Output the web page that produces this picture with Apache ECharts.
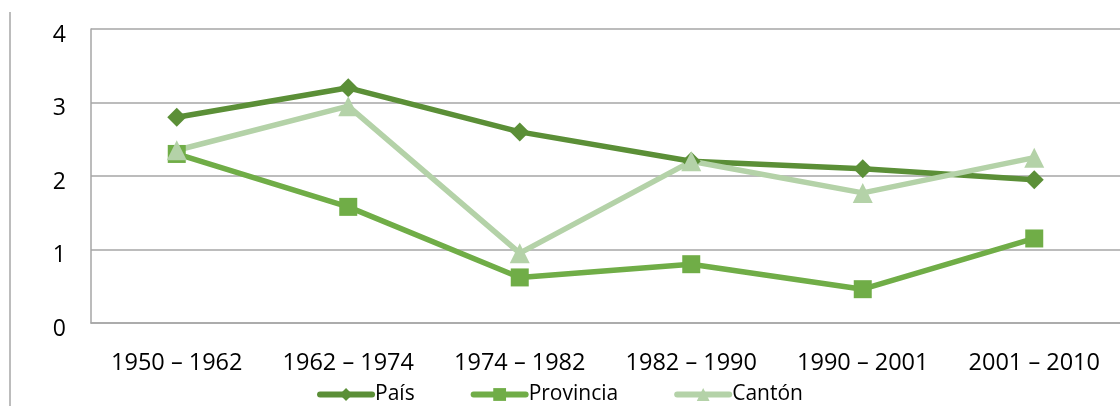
<!DOCTYPE html>
<html>
<head>
<meta charset="utf-8">
<script src="https://cdn.jsdelivr.net/npm/echarts@6/dist/echarts.min.js"></script>
<style>
  html, body { margin: 0; padding: 0; background: #fff; }
  #chart { width: 1120px; height: 406px; }
</style>
</head>
<body>
<div id="chart"></div>
<script>
const periods = ["1950 – 1962", "1962 – 1974", "1974 – 1982", "1982 – 1990", "1990 – 2001", "2001 – 2010"];
const pais = [2.8, 3.2, 2.6, 2.2, 2.1, 1.95];
const provincia = [2.3, 1.58, 0.62, 0.8, 0.46, 1.15];
const canton = [2.35, 2.95, 0.95, 2.2, 1.77, 2.25];

const font = "Open Sans";
const chart = echarts.init(document.getElementById("chart"));

function lineSeries(name, data, color, symbol, size) {
  return {
    name: name,
    type: "line",
    data: data,
    symbol: symbol,
    symbolSize: size,
    lineStyle: { color: color, width: 5.5 },
    itemStyle: { color: color },
    z: 2,
  };
}

chart.setOption({
  animation: false,
  textStyle: { fontFamily: font },
  grid: { left: 91, top: 29, right: -6, bottom: 83 },
  legend: {
    top: 379,
    left: "center",
    itemWidth: 52,
    itemHeight: 16,
    itemGap: 56,
    lineStyle: { width: 6, cap: "round" },
    textStyle: { fontSize: 21, color: "#000", fontFamily: font, padding: [0, 0, 0, -2] },
    data: ["País", "Provincia", "Cantón"],
  },
  xAxis: {
    type: "category",
    data: periods,
    boundaryGap: true,
    axisLine: { show: true, lineStyle: { color: "#a6a6a6", width: 1.5 } },
    axisTick: { show: false },
    axisLabel: { color: "#000", fontSize: 23.5, margin: 28 },
  },
  yAxis: {
    type: "value",
    min: 0,
    max: 4,
    interval: 1,
    axisLine: { show: true, lineStyle: { color: "#a6a6a6", width: 1.5 } },
    axisTick: { show: false },
    axisLabel: {
      margin: 25,
      formatter: "{v|{value}}",
      rich: { v: { color: "#000", fontSize: 23, fontFamily: font, padding: [12, 0, 0, 0] } },
    },
    splitLine: { lineStyle: { color: "#a6a6a6", width: 1.5 } },
  },
  graphic: [
    {
      type: "line",
      shape: { x1: 10, y1: 12, x2: 10, y2: 406 },
      style: { stroke: "#a6a6a6", lineWidth: 1.5 },
    },
  ],
  series: [
    lineSeries("País", pais, "#5b8f37", "diamond", 19),
    lineSeries("Provincia", provincia, "#70ad47", "rect", 18),
    lineSeries("Cantón", canton, "#b4d2a8", "triangle", 20),
  ],
});
</script>
</body>
</html>
